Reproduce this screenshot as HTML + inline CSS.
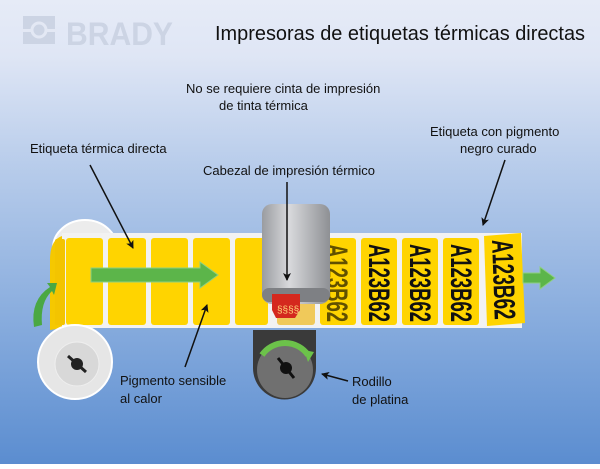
<!DOCTYPE html>
<html><head><meta charset="utf-8"><style>
html,body{margin:0;padding:0}
body{width:600px;height:464px;overflow:hidden;font-family:"Liberation Sans",sans-serif}
</style></head><body>
<svg width="600" height="464" viewBox="0 0 600 464" xmlns="http://www.w3.org/2000/svg">
<defs>
<linearGradient id="bg" x1="0" y1="0" x2="0" y2="1">
<stop offset="0" stop-color="#e6ebf7"/><stop offset="0.12" stop-color="#dfe6f5"/>
<stop offset="0.35" stop-color="#b9cdeb"/><stop offset="0.7" stop-color="#86abdd"/><stop offset="1" stop-color="#5b8dd0"/>
</linearGradient>
<linearGradient id="head" x1="0" y1="0" x2="1" y2="0">
<stop offset="0" stop-color="#9a9ca0"/><stop offset="0.4" stop-color="#d8d9dc"/><stop offset="1" stop-color="#8e9094"/>
</linearGradient>
<marker id="ah" markerWidth="8" markerHeight="8" refX="7" refY="4" orient="auto" markerUnits="userSpaceOnUse"><path d="M0,0 L8,4 L0,8 L2,4 z" fill="#111"/></marker>
</defs>
<rect width="600" height="464" fill="url(#bg)"/>
<!-- logo -->
<rect x="23" y="16" width="32" height="28" fill="#ccd4e4"/>
<circle cx="39" cy="30" r="7" fill="none" stroke="#e3e8f4" stroke-width="3"/>
<rect x="21" y="29" width="10" height="3" fill="#e3e8f4"/><rect x="47" y="29" width="10" height="3" fill="#e3e8f4"/>
<text x="66" y="45" font-size="32" font-weight="bold" fill="#ccd4e4" textLength="107" lengthAdjust="spacingAndGlyphs">BRADY</text>
<text x="215" y="40" font-size="20" fill="#111" textLength="370" lengthAdjust="spacingAndGlyphs">Impresoras de etiquetas térmicas directas</text>
<text x="186" y="93" font-size="13" fill="#111">No se requiere cinta de impresión</text>
<text x="219" y="110" font-size="13" fill="#111">de tinta térmica</text>
<text x="30" y="153" font-size="13" fill="#111">Etiqueta térmica directa</text>
<text x="203" y="175" font-size="13" fill="#111">Cabezal de impresión térmico</text>
<text x="430" y="136" font-size="13" fill="#111">Etiqueta con pigmento</text>
<text x="460" y="153" font-size="13" fill="#111">negro curado</text>
<text x="120" y="385" font-size="13" fill="#111">Pigmento sensible</text>
<text x="120" y="403" font-size="13" fill="#111">al calor</text>
<text x="352" y="386" font-size="13" fill="#111">Rodillo</text>
<text x="352" y="404" font-size="13" fill="#111">de platina</text>
<!-- top roll -->
<ellipse cx="85" cy="248" rx="32" ry="28" fill="#ececec" stroke="#fff" stroke-width="2"/>
<!-- strip backing -->
<rect x="62" y="233" width="460" height="95" fill="#f2f2f2"/>
<path d="M62,236 Q50,240 50,260 L50,330 L62,328 z" fill="#f5c800"/>
<g fill="#ffd400">
<rect x="55" y="239" width="10" height="86" rx="2" fill="#f3c400"/>
<rect x="66" y="238" width="37" height="87" rx="3"/>
<rect x="108" y="238" width="38" height="87" rx="3"/>
<rect x="151" y="238" width="37" height="87" rx="3"/>
<rect x="193" y="238" width="37" height="87" rx="3"/>
<rect x="235" y="238" width="33" height="87" rx="3"/>
<rect x="277" y="238" width="38" height="87" rx="3" fill="#f0c95a"/>
<rect x="320" y="238" width="36" height="87" rx="3"/>
<rect x="361" y="238" width="36" height="87" rx="3"/>
<rect x="402" y="238" width="36" height="87" rx="3"/>
<rect x="443" y="238" width="36" height="87" rx="3"/>
<path d="M484,236 L521,233 L525,323 L487,326 z"/>
</g>
<g font-size="30" font-weight="bold" fill="#111" font-family="Liberation Sans,sans-serif">
<text transform="translate(327,244) rotate(90)" fill="#3a3000" opacity="0.8" textLength="78" lengthAdjust="spacingAndGlyphs">A123B62</text>
<text transform="translate(369,244) rotate(90)" textLength="78" lengthAdjust="spacingAndGlyphs">A123B62</text>
<text transform="translate(410,244) rotate(90)" textLength="78" lengthAdjust="spacingAndGlyphs">A123B62</text>
<text transform="translate(451,244) rotate(90)" textLength="78" lengthAdjust="spacingAndGlyphs">A123B62</text>
<text transform="translate(492,240) rotate(88)" textLength="80" lengthAdjust="spacingAndGlyphs">A123B62</text>
</g>
<!-- green arrows -->
<path d="M91,268 L200,268 L200,262 L218,275 L200,288 L200,282 L91,282 z" fill="#5cb54a" stroke="#8ed080" stroke-width="1"/>
<path d="M523,273 L540,273 L540,267 L555,278 L540,289 L540,283 L523,283 z" fill="#5cb54a" stroke="#8ed080" stroke-width="1"/>
<path d="M34,327 Q30,300 50,287 L47,283 L57,283 L54,295 L52,291 Q40,302 42,325 z" fill="#4aa843"/>
<!-- bottom roll -->
<circle cx="75" cy="362" r="37" fill="#e6e6e6" stroke="#fff" stroke-width="2"/>
<circle cx="77" cy="364" r="22" fill="#d8d8d8" stroke="#eee"/>
<circle cx="77" cy="364" r="6" fill="#222"/>
<path d="M68,356 L86,372" stroke="#222" stroke-width="3"/>
<!-- platen -->
<path d="M253,330 L316,330 L316,368 A31.5,31.5 0 0 1 253,368 z" fill="#3a3a3a"/>
<circle cx="285" cy="370" r="28" fill="#707070"/>
<path d="M262,355 A28,28 0 0 1 308,355" fill="none" stroke="#6cc24a" stroke-width="6"/>
<path d="M304,350 L314,352 L308,362 z" fill="#6cc24a"/>
<circle cx="286" cy="368" r="6" fill="#111"/>
<path d="M278,358 L294,378" stroke="#111" stroke-width="3"/>
<!-- head -->
<rect x="262" y="204" width="68" height="100" rx="10" fill="url(#head)"/>
<rect x="262" y="288" width="68" height="14" rx="7" fill="#7e8084"/>
<path d="M272,294 L300,294 L300,310 L295,318 L276,318 L272,310 z" fill="#d4281e"/>
<text x="277" y="313" font-size="10" fill="#ffd27a">§§§§</text>
<!-- leader arrows -->
<g stroke="#111" stroke-width="1.5" fill="none" marker-end="url(#ah)">
<line x1="90" y1="165" x2="133" y2="248"/>
<line x1="287" y1="182" x2="287" y2="280"/>
<line x1="505" y1="160" x2="483" y2="225"/>
<line x1="185" y1="367" x2="207" y2="305"/>
<line x1="348" y1="381" x2="322" y2="374"/>
</g>
</svg>
</body></html>
